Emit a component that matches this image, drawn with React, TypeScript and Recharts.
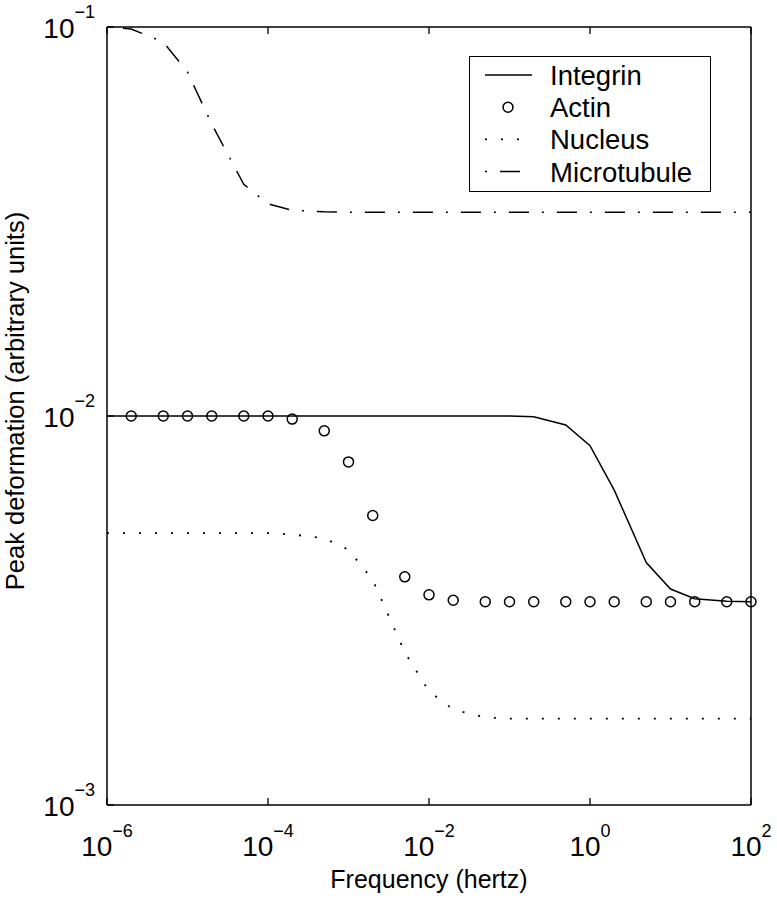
import React from 'react';
import { LineChart, Line, XAxis, YAxis } from 'recharts';

// sample frequencies (hertz), 1-2-5 steps
const FREQ = [
  1e-6, 2e-6, 5e-6, 1e-5, 2e-5, 5e-5, 1e-4, 2e-4, 5e-4, 1e-3, 2e-3, 5e-3, 1e-2,
  2e-2, 5e-2, 0.1, 0.2, 0.5, 1, 2, 5, 10, 20, 50, 100,
];

const INTEGRIN = [
  0.01, 0.01, 0.01, 0.01, 0.01, 0.01, 0.01, 0.01, 0.01, 0.01, 0.01, 0.01, 0.01,
  0.01, 0.01, 0.01, 0.00996, 0.00948, 0.00839, 0.00645, 0.0042, 0.00359, 0.00339, 0.00334, 0.00333,
];

const ACTIN = [
  null, 0.01, 0.01, 0.01, 0.01, 0.01, 0.01, 0.00982, 0.00916, 0.00762, 0.00555, 0.00386, 0.00347,
  0.00336, 0.00333, 0.00333, 0.00333, 0.00333, 0.00333, 0.00333, 0.00333, 0.00333, 0.00333, 0.00333, 0.00333,
];

const NUCLEUS = [
  0.005, 0.005, 0.005, 0.005, 0.005, 0.005, 0.005, 0.00496, 0.00485, 0.00453, 0.00379, 0.00247, 0.00196,
  0.00176, 0.00168, 0.001667, 0.001667, 0.001667, 0.001667, 0.001667, 0.001667, 0.001667, 0.001667, 0.001667, 0.001667,
];

const MICROTUBULE = [
  0.1, 0.0988, 0.0915, 0.0766, 0.0563, 0.0394, 0.0351, 0.0338, 0.0335, 0.0334, 0.0334, 0.0334, 0.0334,
  0.0334, 0.0334, 0.0334, 0.0334, 0.0334, 0.0334, 0.0334, 0.0334, 0.0334, 0.0334, 0.0334, 0.0334,
];

const X_TICKS = [1e-6, 1e-4, 1e-2, 1, 100];
const Y_TICKS = [1e-3, 1e-2, 1e-1];

const SERIES_NAMES = ['Integrin', 'Actin', 'Nucleus', 'Microtubule'];

const FONT = '"Liberation Sans", Arial, Helvetica, sans-serif';
const DOTTED = '2 14';
const DASH_DOT = '20 13 2 13';
const TICK_LEN = 7;

const rows = FREQ.map((f, i) => ({
  f,
  integrin: INTEGRIN[i],
  actin: ACTIN[i],
  nucleus: NUCLEUS[i],
  microtubule: MICROTUBULE[i],
}));

function exponent(v: number) {
  const e = Math.round(Math.log10(v));
  return e < 0 ? `\u2212${-e}` : `${e}`;
}

function BottomTick(props: any) {
  const { x, y, payload } = props;
  return (
    <g>
      <line x1={x} y1={y} x2={x} y2={y - TICK_LEN} stroke="#000" strokeWidth={1.3} />
      <text x={x} y={y + 51} textAnchor="middle" fontFamily={FONT} fontSize={28} fill="#000">
        <tspan>10</tspan>
        <tspan dy={-19} fontSize={18}>{exponent(payload.value)}</tspan>
      </text>
    </g>
  );
}

function TopTick(props: any) {
  const { x, y } = props;
  return <line x1={x} y1={y} x2={x} y2={y + TICK_LEN} stroke="#000" strokeWidth={1.3} />;
}

function LeftTick(props: any) {
  const { x, y, payload } = props;
  return (
    <g>
      <line x1={x} y1={y} x2={x + TICK_LEN} y2={y} stroke="#000" strokeWidth={1.3} />
      <text x={x - 12} y={y + 11} textAnchor="end" fontFamily={FONT} fontSize={28} fill="#000">
        <tspan>10</tspan>
        <tspan dy={-20} fontSize={18}>{exponent(payload.value)}</tspan>
      </text>
    </g>
  );
}

function RightTick(props: any) {
  const { x, y } = props;
  return <line x1={x} y1={y} x2={x - TICK_LEN} y2={y} stroke="#000" strokeWidth={1.3} />;
}

function XTitle(props: any) {
  const vb = props.viewBox || { x: 107, y: 805, width: 644, height: 1 };
  return (
    <text x={vb.x + vb.width / 2} y={vb.y + 83} textAnchor="middle" fontFamily={FONT} fontSize={25} fill="#000">
      Frequency (hertz)
    </text>
  );
}

function YTitle(props: any) {
  const vb = props.viewBox || { x: 106, y: 27, width: 1, height: 778 };
  const cx = 23.5;
  const cy = vb.y + vb.height / 2 - 15;
  return (
    <text
      x={cx}
      y={cy}
      transform={`rotate(-90 ${cx} ${cy})`}
      textAnchor="middle"
      fontFamily={FONT}
      fontSize={25.5}
      fill="#000"
    >
      Peak deformation (arbitrary units)
    </text>
  );
}

function LegendBox() {
  const rowGap = 32.2;
  return (
    <div
      style={{
        position: 'absolute',
        left: 469,
        top: 56,
        width: 242,
        height: 136,
        border: '1.5px solid #000',
        boxSizing: 'border-box',
        background: '#fff',
      }}
    >
      <svg width={242} height={136} style={{ position: 'absolute', left: -1.5, top: -1.5 }}>
        {SERIES_NAMES.map((name, i) => {
          const base = 29 + i * rowGap;
          const cy = base - 10;
          let sample: React.ReactNode = null;
          if (i === 0) sample = <line x1={16} x2={63} y1={cy} y2={cy} stroke="#000" strokeWidth={1.5} />;
          if (i === 1) sample = <circle cx={39} cy={cy} r={5} fill="none" stroke="#000" strokeWidth={1.5} />;
          if (i === 2)
            sample = <line x1={16} x2={63} y1={cy} y2={cy} stroke="#000" strokeWidth={1.8} strokeDasharray={DOTTED} />;
          if (i === 3)
            sample = (
              <line
                x1={16}
                x2={63}
                y1={cy}
                y2={cy}
                stroke="#000"
                strokeWidth={1.5}
                strokeDasharray={DASH_DOT}
                strokeDashoffset={33}
              />
            );
          return (
            <g key={name}>
              {sample}
              <text x={81} y={base} fontFamily={FONT} fontSize={27.5} fill="#000">
                {name}
              </text>
            </g>
          );
        })}
      </svg>
    </div>
  );
}

export default function App() {
  const axisLine = { stroke: '#000', strokeWidth: 1.5 };
  return (
    <div style={{ position: 'absolute', left: 0, top: 0, width: 777, height: 899, background: '#fff' }}>
      <LineChart width={777} height={899} data={rows} margin={{ top: 26, right: 25, bottom: 93, left: 106 }}>
        <XAxis
          xAxisId="b"
          dataKey="f"
          type="number"
          scale="log"
          domain={[1e-6, 100]}
          ticks={X_TICKS}
          interval={0}
          height={1}
          tickSize={0}
          tickMargin={0}
          tickLine={false}
          axisLine={axisLine}
          tick={<BottomTick />}
          label={<XTitle />}
        />
        <XAxis
          xAxisId="t"
          orientation="top"
          dataKey="f"
          type="number"
          scale="log"
          domain={[1e-6, 100]}
          ticks={X_TICKS}
          interval={0}
          height={1}
          tickSize={0}
          tickMargin={0}
          tickLine={false}
          axisLine={axisLine}
          tick={<TopTick />}
        />
        <YAxis
          yAxisId="l"
          type="number"
          scale="log"
          domain={[1e-3, 1e-1]}
          ticks={Y_TICKS}
          interval={0}
          width={1}
          tickSize={0}
          tickMargin={0}
          tickLine={false}
          axisLine={axisLine}
          tick={<LeftTick />}
          label={<YTitle />}
        />
        <YAxis
          yAxisId="r"
          orientation="right"
          type="number"
          scale="log"
          domain={[1e-3, 1e-1]}
          ticks={Y_TICKS}
          interval={0}
          width={1}
          tickSize={0}
          tickMargin={0}
          tickLine={false}
          axisLine={axisLine}
          tick={<RightTick />}
        />
        <Line
          xAxisId="b"
          yAxisId="l"
          dataKey="integrin"
          name="Integrin"
          type="linear"
          stroke="#000"
          strokeWidth={1.5}
          dot={false}
          activeDot={false}
          isAnimationActive={false}
        />
        <Line
          xAxisId="b"
          yAxisId="l"
          dataKey="actin"
          name="Actin"
          type="linear"
          stroke="none"
          dot={{ r: 5, fill: 'none', stroke: '#000', strokeWidth: 1.5 }}
          activeDot={false}
          isAnimationActive={false}
        />
        <Line
          xAxisId="b"
          yAxisId="l"
          dataKey="nucleus"
          name="Nucleus"
          type="linear"
          stroke="#000"
          strokeWidth={1.8}
          strokeDasharray={DOTTED}
          dot={false}
          activeDot={false}
          isAnimationActive={false}
        />
        <Line
          xAxisId="b"
          yAxisId="l"
          dataKey="microtubule"
          name="Microtubule"
          type="linear"
          stroke="#000"
          strokeWidth={1.5}
          strokeDasharray={DASH_DOT}
          strokeDashoffset={-16}
          dot={false}
          activeDot={false}
          isAnimationActive={false}
        />
      </LineChart>
      <LegendBox />
    </div>
  );
}
